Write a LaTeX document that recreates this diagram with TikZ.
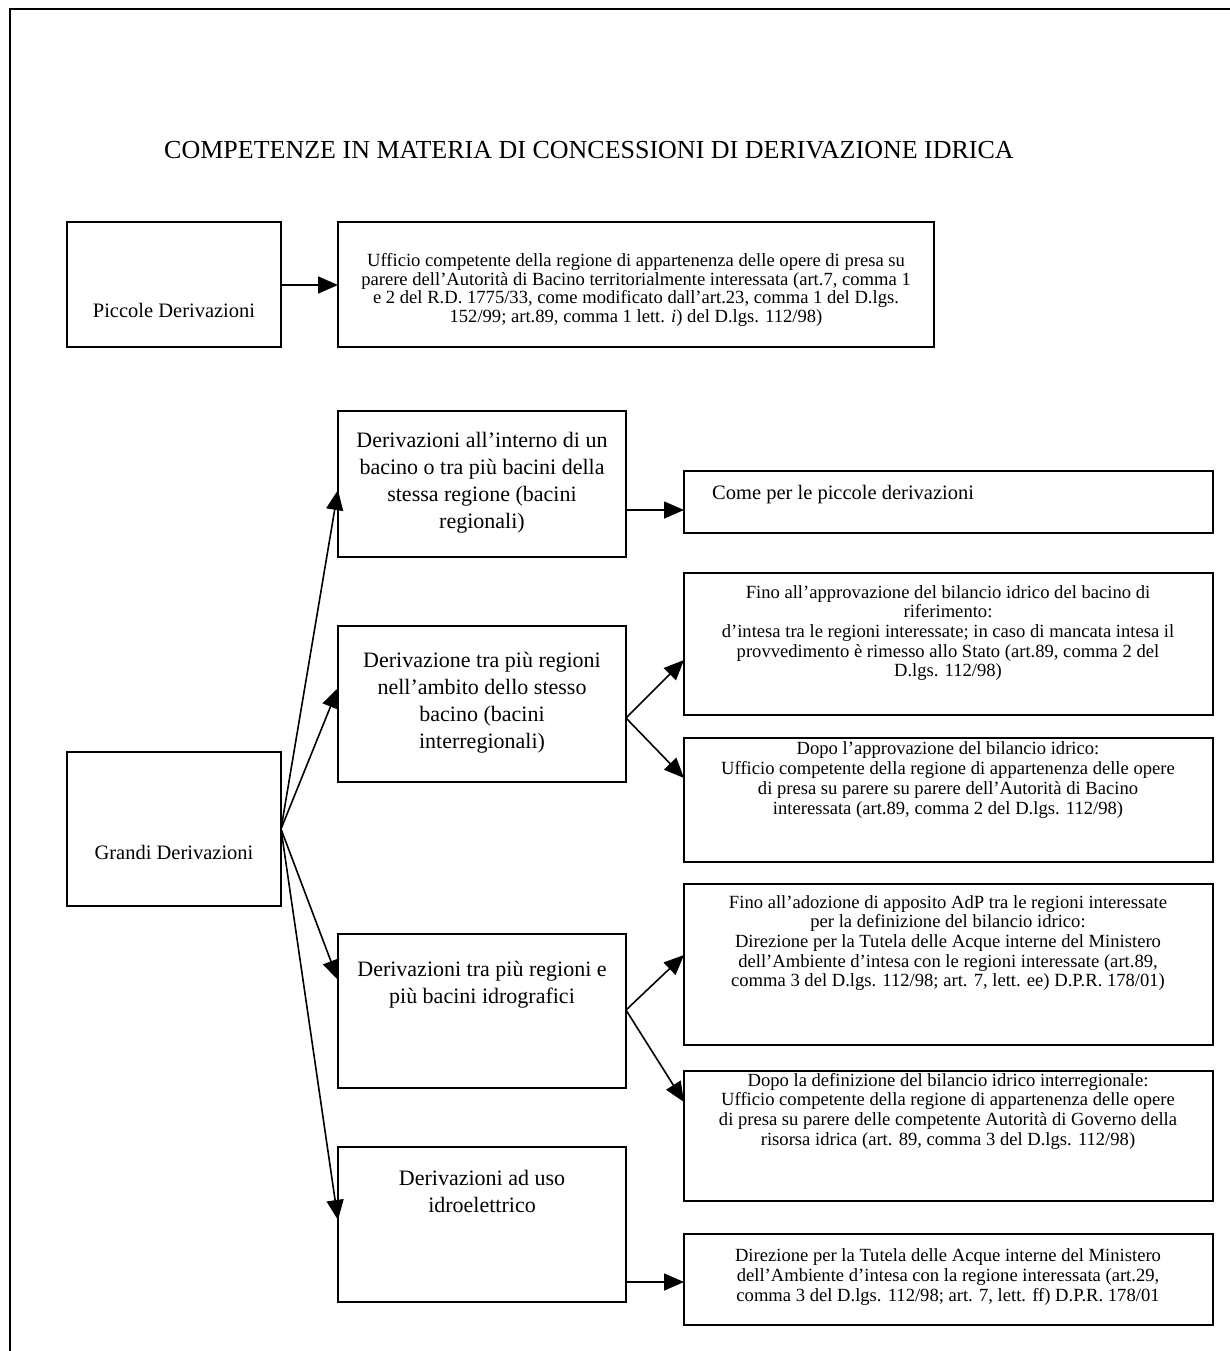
\documentclass[tikz,border=0pt]{standalone}
\usepackage{fontspec}
\setmainfont{Liberation Serif}
\usetikzlibrary{arrows.meta}
\newcommand\fnttitle{\fontsize{26}{30}\selectfont}
\newcommand\fntmed{\fontsize{22}{27}\selectfont}
\newcommand\fntlab{\fontsize{20.5}{23.5}\selectfont}
\newcommand\fntsmall{\fontsize{18.6}{19.7}\selectfont}
\begin{document}
\begin{tikzpicture}[x=1pt,y=-1pt,
  box/.style={draw, line width=2pt, anchor=north west, inner sep=0pt, outer sep=0pt},
  txt/.style={align=center, inner sep=0pt},
  arr/.style={line width=1.6pt, -{Triangle[length=20pt,width=17pt]}}]
\useasboundingbox (0,0) rectangle (1230,1351);
\fill[white] (0,0) rectangle (1230,1351);
% frame
\draw[line width=2.4pt] (10,1351) -- (10,9) -- (1230,9);
% title
\node[txt, font=\fnttitle] (title) at (589,150) {COMPETENZE IN MATERIA DI CONCESSIONI DI DERIVAZIONE IDRICA};
% boxes
\node[box, minimum width=214pt, minimum height=125pt] (pic) at (67,222) {};
\node[box, minimum width=596pt, minimum height=125pt] (uff) at (338,222) {};
\node[box, minimum width=288pt, minimum height=146pt] (dA) at (338,411) {};
\node[box, minimum width=529pt, minimum height=62pt] (come) at (684,471) {};
\node[box, minimum width=529pt, minimum height=142pt] (fino1) at (684,573) {};
\node[box, minimum width=288pt, minimum height=156pt] (dB) at (338,626) {};
\node[box, minimum width=529pt, minimum height=124pt] (dopo1) at (684,738) {};
\node[box, minimum width=214pt, minimum height=154pt] (grandi) at (67,752) {};
\node[box, minimum width=529pt, minimum height=161pt] (fino2) at (684,884) {};
\node[box, minimum width=288pt, minimum height=154pt] (dC) at (338,934) {};
\node[box, minimum width=529pt, minimum height=130pt] (dopo2) at (684,1071) {};
\node[box, minimum width=288pt, minimum height=155pt] (dD) at (338,1147) {};
\node[box, minimum width=529pt, minimum height=91pt] (last) at (684,1234) {};
% texts
\node[txt, font=\fntlab] (picT) at (174,310) {Piccole Derivazioni};
\node[txt, font=\fontsize{18.6}{18.8}\selectfont] (uffT) at (636,290) {Ufficio competente della regione di appartenenza delle opere di presa su\\parere dell’Autorità di Bacino territorialmente interessata (art.7, comma 1\\e 2 del R.D. 1775/33, come modificato dall’art.23, comma 1 del D.lgs.\\152/99; art.89, comma 1 lett. \textit{i}) del D.lgs. 112/98)};
\node[txt, font=\fntmed] (dAT) at (482,483) {Derivazioni all’interno di un\\bacino o tra più bacini della\\stessa regione (bacini\\regionali)};
\node[txt, font=\fntlab, anchor=west] (comeT) at (712,495) {Come per le piccole derivazioni};
\node[txt, font=\fntsmall] (fino1T) at (948,633) {Fino all’approvazione del bilancio idrico del bacino di\\riferimento:\\d’intesa tra le regioni interessate; in caso di mancata intesa il\\provvedimento è rimesso allo Stato (art.89, comma 2 del\\D.lgs. 112/98)};
\node[txt, font=\fntmed] (dBT) at (482,703) {Derivazione tra più regioni\\nell’ambito dello stesso\\bacino (bacini\\interregionali)};
\node[txt, font=\fntsmall] (dopo1T) at (948,780) {Dopo l’approvazione del bilancio idrico:\\Ufficio competente della regione di appartenenza delle opere\\di presa su parere su parere dell’Autorità di Bacino\\interessata (art.89, comma 2 del D.lgs. 112/98)};
\node[txt, font=\fntlab] (grandiT) at (174,852) {Grandi Derivazioni};
\node[txt, font=\fntsmall] (fino2T) at (948,943) {Fino all’adozione di apposito AdP tra le regioni interessate\\per la definizione del bilancio idrico:\\Direzione per la Tutela delle Acque interne del Ministero\\dell’Ambiente d’intesa con le regioni interessate (art.89,\\comma 3 del D.lgs. 112/98; art. 7, lett. ee) D.P.R. 178/01)};
\node[txt, font=\fntmed] (dCT) at (482,985) {Derivazioni tra più regioni e\\più bacini idrografici};
\node[txt, font=\fntsmall] (dopo2T) at (948,1111) {Dopo la definizione del bilancio idrico interregionale:\\Ufficio competente della regione di appartenenza delle opere\\di presa su parere delle competente Autorità di Governo della\\risorsa idrica (art. 89, comma 3 del D.lgs. 112/98)};
\node[txt, font=\fntmed] (dDT) at (482,1191) {Derivazioni ad uso\\idroelettrico};
\node[txt, font=\fntsmall] (lastT) at (948,1277) {Direzione per la Tutela delle Acque interne del Ministero\\dell’Ambiente d’intesa con la regione interessata (art.29,\\comma 3 del D.lgs. 112/98; art. 7, lett. ff) D.P.R. 178/01};
% connectors
\draw[arr] (pic.east |- 0,285) -- (uff.west |- 0,285);
\draw[arr] (dA.east |- 0,510) -- (come.west |- 0,510);
\draw[arr] (dB.east |- 0,718) -- (fino1.west |- 0,660);
\draw[arr] (dB.east |- 0,718) -- (dopo1.west |- 0,778);
\draw[arr] (grandi.east) -- (dA.west |- 0,490);
\draw[arr] (grandi.east) -- (dB.west |- 0,688);
\draw[arr] (grandi.east) -- (dC.west |- 0,980);
\draw[arr] (grandi.east) -- (dD.west |- 0,1220);
\draw[arr] (dC.east |- 0,1010) -- (fino2.west |- 0,955);
\draw[arr] (dC.east |- 0,1010) -- (dopo2.west |- 0,1102);
\draw[arr] (dD.east |- 0,1282) -- (last.west |- 0,1282);
\end{tikzpicture}
\end{document}
